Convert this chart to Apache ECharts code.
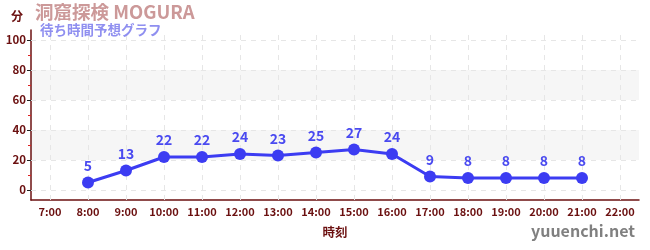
<!DOCTYPE html>
<html><head><meta charset="utf-8">
<script src="https://cdn.jsdelivr.net/npm/echarts@6/dist/echarts.min.js"></script>
<style>html,body{margin:0;padding:0;background:#fff}#c{width:650px;height:250px}</style>
</head><body><div id="c"></div>
<script>
var categories = ["7:00","8:00","9:00","10:00","11:00","12:00","13:00","14:00","15:00","16:00","17:00","18:00","19:00","20:00","21:00","22:00"];
var waitTimes = [null,5,13,22,22,24,23,25,27,24,9,8,8,8,8,null];
var yTicks = [0,20,40,60,80,100];
var yMinorTicks = [10,30,50,70,90];
var bands = [[20,40],[60,80]];
var titleText = "洞窟探検 MOGURA";
var subtitleText = "待ち時間予想グラフ";
var yName = "分";
var xName = "時刻";
var credit = "yuuenchi.net";

var font = '"Noto Sans CJK JP", "Noto Sans", sans-serif';
var axisColor = '#6b1010';
var yMin = -6.67, yMax = 106.67;
var chart = echarts.init(document.getElementById('c'));
chart.setOption({
  animation: false,
  textStyle: {fontFamily: font},
  title: [
    {text: titleText, left: 35, top: 3, padding: 0,
     textStyle: {color: '#cc9999', fontSize: 18.5, fontWeight: 'bold', fontFamily: font}},
    {text: subtitleText, left: 40, top: 23, padding: 0,
     textStyle: {color: '#8f8ff0', fontSize: 13.5, fontWeight: 'bold', fontFamily: font}}
  ],
  graphic: [{type: 'text', right: 15, top: 223, style: {text: credit, fill: '#808080', font: 'bold 16px ' + font}}],
  grid: {left: 31, right: 11, top: 30, bottom: 50},
  xAxis: {
    type: 'category', data: categories, boundaryGap: true,
    name: xName, nameLocation: 'middle', nameGap: 26,
    nameTextStyle: {color: axisColor, fontWeight: 'bold', fontSize: 12.5},
    axisLine: {onZero: false, lineStyle: {color: axisColor, width: 1.5}},
    axisTick: {alignWithLabel: true, length: 4, lineStyle: {color: '#555'}},
    axisLabel: {color: axisColor, fontSize: 11, fontWeight: 'bold', margin: 6, interval: 0},
    splitLine: {show: false}
  },
  yAxis: [{
    type: 'value', min: yMin, max: yMax,
    name: yName, nameLocation: 'end', nameGap: 8,
    nameTextStyle: {color: axisColor, fontWeight: 'bold', fontSize: 12, align: 'right', padding: [0, 8, 0, 0]},
    axisLine: {show: true, lineStyle: {color: axisColor, width: 1.5}},
    axisTick: {show: true, customValues: yTicks, length: 4, lineStyle: {color: '#222'}},
    axisLabel: {color: axisColor, fontSize: 11.5, fontWeight: 'bold', margin: 5, customValues: yTicks},
    splitLine: {show: false}
  }, {
    type: 'value', min: yMin, max: yMax, position: 'left',
    axisLine: {show: false},
    axisTick: {show: true, customValues: yMinorTicks, length: 3, lineStyle: {color: '#dd2222'}},
    axisLabel: {show: false, customValues: yMinorTicks},
    splitLine: {show: false}
  }],
  series: [{
    type: 'line', data: [], z: 1, silent: true,
    markArea: {silent: true, itemStyle: {color: 'rgba(0,0,0,0.035)'},
      data: bands.map(function(b){ return [{yAxis: b[0]}, {yAxis: b[1]}]; })},
    markLine: {silent: true, symbol: 'none', label: {show: false},
      lineStyle: {color: '#e6e6e6', type: [5, 5], width: 1},
      data: yTicks.map(function(v){ return {yAxis: v}; }).concat(categories.map(function(c){ return {xAxis: c}; }))}
  }, {
    type: 'line', data: waitTimes, connectNulls: false, z: 5,
    symbol: 'circle', symbolSize: 12,
    lineStyle: {color: '#3c3cf2', width: 3},
    itemStyle: {color: '#3c3cf2'},
    label: {show: true, position: 'top', distance: 4, color: '#4a4af0', fontWeight: 'bold', fontSize: 14}
  }]
});
</script></body></html>
